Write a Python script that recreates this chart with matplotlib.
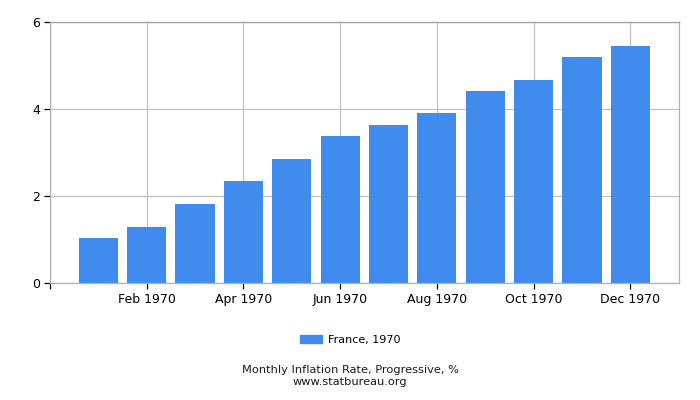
import matplotlib.pyplot as plt
import matplotlib.patches as mpatches

# Valores
meses = ["Jan 1970", "Feb 1970", "Mar 1970", "Apr 1970", "May 1970", "Jun 1970",
         "Jul 1970", "Aug 1970", "Sep 1970", "Oct 1970", "Nov 1970", "Dec 1970"]
inflacao = [1.04, 1.29, 1.82, 2.35, 2.85, 3.38, 3.63, 3.91, 4.42, 4.67, 5.20, 5.45]
yticks = [0, 2, 4, 6]

COR_BARRA = "#418bef"
COR_GRADE = "#c0c0c0"

fig = plt.figure(figsize=(7, 4), dpi=100)
ax = fig.add_axes([50 / 700, 116.7 / 400, 628.7 / 700, 261 / 400])

x = list(range(len(meses)))
ax.bar(x, inflacao, width=0.81, color=COR_BARRA, zorder=2)

# Ticks a cada 2 meses, mais um sem rótulo na borda esquerda
pos_ticks = [-1] + x[1::2]
rotulos = [""] + meses[1::2]
ax.set_xticks(pos_ticks)
ax.set_xticklabels(rotulos, fontsize=9)
ax.set_xlim(-1, 12)
ax.set_ylim(0, 6)
ax.set_yticks(yticks)
ax.set_yticklabels([str(v) for v in yticks], fontsize=9)

ax.grid(True, color=COR_GRADE, linewidth=0.9, zorder=0)
ax.set_axisbelow(True)
for lado, sp in ax.spines.items():
    sp.set_color("#b0b0b0")
    sp.set_linewidth(0.9)
ax.spines["top"].set_color("#a0a0a0")
ax.tick_params(axis="both", color="black", length=4, width=0.9, pad=3)

patch = mpatches.Patch(color=COR_BARRA, label="France, 1970")
fig.legend(handles=[patch], loc="center", bbox_to_anchor=(0.5, 1 - 340 / 400),
           frameon=False, fontsize=8, handlelength=2.0, handleheight=0.8,
           handletextpad=0.5)

fig.text(0.5, 1 - 370 / 400, "Monthly Inflation Rate, Progressive, %",
         ha="center", va="center", fontsize=8.2, color="#1a1a1a")
fig.text(0.5, 1 - 382 / 400, "www.statbureau.org",
         ha="center", va="center", fontsize=8.2, color="#1a1a1a")

plt.savefig("out.png", dpi=100)
